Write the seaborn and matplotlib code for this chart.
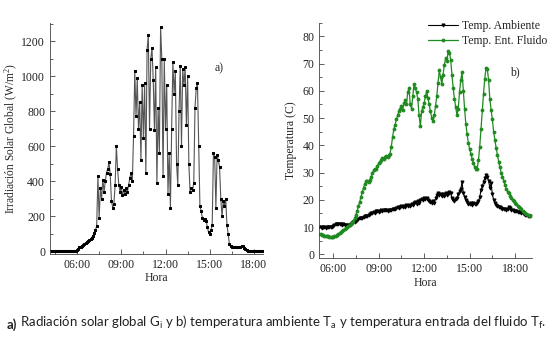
import pandas as pd
import matplotlib.pyplot as plt
import matplotlib.dates as mdates
from matplotlib.ticker import MultipleLocator, AutoMinorLocator
import seaborn as sns

# Irradiacion solar global (W/m2), cada 5 min desde 04:10 hasta 18:40
irradiacion = [
    0, 0, 0, 0, 0, 0, 0, 0, 0, 0, 0, 0, 0, 0, 0, 0, 0, 0, 0, 0, 0,
    3,
    8, 15, 22, 27, 32, 37, 42, 47, 53, 58, 63, 70,
    78, 90, 105, 122, 145, 430, 190, 360, 300, 410, 340, 400,
    450, 470, 510, 440, 290, 250, 270, 380, 600, 470, 380, 340,
    370, 320, 350, 330, 360, 340, 380, 420, 450, 400, 660, 1030,
    770, 990, 700, 850, 520, 950, 650, 960, 450, 1150, 1235, 700,
    1100, 1160, 980, 690, 1050, 390, 820, 560, 1280, 1100, 430, 1100,
    700, 950, 330, 560, 250, 700, 1080, 900, 1030, 500, 380, 800,
    1060, 600, 1040, 950, 1050, 720, 1000, 500, 340, 360, 350, 390,
    820, 930, 960, 600, 260, 230, 190, 180, 185, 175, 140, 110,
    100, 120, 150, 560, 540, 250, 550, 520, 480, 300, 200, 290,
    260, 300, 150, 100, 40, 28, 25, 24, 25, 24, 25, 24,
    25, 26, 30, 28, 20, 12, 5, 2, 0, 0, 0, 0,
    0, 0, 0, 0, 0, 0, 0, 0, 0,
]

# Temperaturas (C), cada 5 min desde 05:05 hasta 19:00
temp_ambiente = [
    10.0, 10.0, 9.8, 9.9, 10.0, 9.8, 9.9, 10.0, 10.1, 10.0, 10.2,
    10.4, 10.8, 11.0, 11.2, 11.0, 11.1, 11.0, 10.8, 11.0, 10.7, 10.6, 10.5,
    10.6, 10.8, 11.0, 11.4, 11.8, 12.0, 12.3, 12.6, 12.8, 13.2, 13.4, 13.3,
    13.8, 14.0, 14.2, 14.0, 14.6, 14.8, 15.2, 15.0, 15.5, 15.3, 15.8, 16.0,
    15.7, 16.0, 16.2, 15.8, 16.1, 16.4, 16.2, 16.0, 16.3, 16.1, 16.4, 16.6,
    16.8, 16.5, 17.0, 17.2, 16.9, 17.4, 17.6, 17.2, 17.8, 17.5, 18.0, 17.6,
    18.2, 17.8, 18.6, 18.0, 18.8, 19.2, 18.5, 19.5, 19.0, 19.8, 20.4, 20.0,
    20.6, 20.2, 20.8, 20.0, 19.5, 19.2, 18.8, 19.4, 19.0, 20.5, 21.8, 22.4,
    21.6, 22.2, 21.5, 22.0, 21.4, 22.6, 21.8, 22.2, 23.0, 22.4, 20.5, 19.8,
    19.6, 20.2, 20.8, 22.0, 23.2, 24.0, 26.5, 22.5, 21.0, 20.0, 19.2, 18.6,
    18.4, 19.0, 18.2, 18.8, 18.4, 18.6, 19.0, 19.4, 21.0, 23.5, 25.0, 26.5,
    28.0, 29.0, 28.5, 27.0, 24.5, 26.0, 22.0, 20.0, 19.0, 18.2, 17.8, 17.5,
    17.2, 17.0, 16.8, 16.6, 16.5, 16.4, 16.6, 17.5, 17.0, 16.4, 16.2, 16.0,
    15.9, 15.8, 15.6, 15.5, 15.4, 15.2, 15.0, 14.8, 14.6, 14.4, 14.2, 14.0,
    13.9,
]
temp_fluido = [
    7.5, 7.3, 7.1, 7.0, 6.9, 6.8, 6.7, 6.6, 6.5, 6.5, 6.5,
    6.5, 6.6, 6.8, 7.0, 7.4, 7.8, 8.2, 8.6, 9.0, 9.3, 9.6, 10.0,
    10.3, 10.7, 11.1, 11.6, 12.2, 13.2, 14.5, 16.0, 17.6, 19.3, 21.0, 22.8,
    24.5, 25.8, 26.8, 27.0, 26.6, 27.2, 28.5, 29.8, 30.8, 31.5, 31.2, 32.4,
    33.4, 33.9, 34.5, 35.4, 35.0, 35.8, 36.2, 35.6, 36.4, 37.0, 39.5, 43.0,
    46.0, 47.5, 49.5, 51.0, 52.5, 53.5, 54.5, 53.0, 55.5, 56.5, 55.0, 59.5,
    61.0, 55.0, 53.5, 58.0, 62.5, 61.0, 59.5, 57.0, 51.0, 47.0, 52.5, 54.0,
    55.5, 58.0, 60.0, 57.5, 55.0, 52.5, 50.0, 49.0, 51.0, 54.5, 58.0, 63.0,
    67.5, 65.0, 62.5, 66.0, 69.5, 72.0, 71.0, 74.5, 74.0, 71.5, 66.0, 61.0,
    57.0, 54.0, 51.0, 53.5, 59.5, 64.0, 67.0, 60.0, 53.5, 48.0, 44.0, 41.0,
    38.5, 37.0, 35.0, 33.5, 32.0, 31.5, 31.5, 34.5, 39.5, 46.0, 53.0, 59.0,
    64.5, 68.5, 68.0, 64.0, 57.0, 53.0, 49.5, 45.0, 42.0, 39.0, 36.5, 34.0,
    32.0, 30.0, 28.5, 27.0, 25.5, 24.0, 23.0, 22.5, 21.5, 20.5, 20.0, 19.5,
    19.0, 18.4, 17.8, 17.3, 16.9, 16.5, 16.0, 15.6, 15.2, 14.9, 14.6, 14.3,
    14.0,
]

hora_rad = pd.date_range("2015-03-10 04:10", periods=len(irradiacion), freq="5min")
hora_temp = pd.date_range("2015-03-10 05:05", periods=len(temp_ambiente), freq="5min")

sns.set_style("ticks")
plt.rcParams["font.family"] = ["Liberation Serif", "DejaVu Serif"]
plt.rcParams["axes.edgecolor"] = "#444444"
plt.rcParams["xtick.color"] = "#444444"
plt.rcParams["ytick.color"] = "#444444"
plt.rcParams["xtick.labelcolor"] = "#222222"
plt.rcParams["ytick.labelcolor"] = "#222222"

fig = plt.figure(figsize=(5.58, 3.40), dpi=100)
ax1 = fig.add_axes([0.0896, 0.253, 0.3823, 0.680])
ax2 = fig.add_axes([0.5722, 0.240, 0.3817, 0.693])

# a) irradiacion
sns.lineplot(x=hora_rad, y=irradiacion, ax=ax1, color="#555555", lw=0.8,
             marker="s", markersize=1.8, markerfacecolor="black",
             markeredgecolor="black")
ax1.set_xlim(pd.Timestamp("2015-03-10 04:10"), pd.Timestamp("2015-03-10 18:38"))
ax1.set_ylim(-15, 1305)
ax1.yaxis.set_major_locator(MultipleLocator(200))
ax1.yaxis.set_minor_locator(MultipleLocator(100))
ax1.set_ylabel("Irradiación Solar Global (W/m$\\mathregular{^2}$)", fontsize=8.3, labelpad=1)
ax1.text(0.774, 0.79, "a)", transform=ax1.transAxes, fontsize=8.5)

# b) temperaturas
sns.lineplot(x=hora_temp, y=temp_ambiente, ax=ax2, color="black", lw=0.8,
             marker="v", markersize=2.2, markeredgecolor="black",
             label="Temp. Ambiente")
sns.lineplot(x=hora_temp, y=temp_fluido, ax=ax2, color="#1f8a1f", lw=0.9,
             marker="o", markersize=2.0, markeredgecolor="#1f8a1f",
             label="Temp. Ent. Fluido")
ax2.set_xlim(pd.Timestamp("2015-03-10 05:05"), pd.Timestamp("2015-03-10 19:08"))
ax2.set_ylim(-1.5, 85)
ax2.yaxis.set_major_locator(MultipleLocator(10))
ax2.yaxis.set_minor_locator(MultipleLocator(5))
ax2.set_ylabel("Temperatura (C)", fontsize=8.5, labelpad=4)
ax2.text(0.895, 0.775, "b)", transform=ax2.transAxes, fontsize=8.5)
ax2.legend(loc="upper left", bbox_to_anchor=(0.47, 1.045), frameon=False,
           fontsize=8.5, handlelength=2.6, handletextpad=0.3, labelspacing=0.25,
           borderpad=0.2)

for ax in (ax1, ax2):
    ax.xaxis.set_major_locator(mdates.HourLocator(byhour=[6, 9, 12, 15, 18]))
    ax.xaxis.set_minor_locator(AutoMinorLocator(2))
    ax.xaxis.set_major_formatter(mdates.DateFormatter("%H:%M"))
    ax.set_xlabel("Hora", fontsize=8.5, labelpad=1)
    ax.tick_params(which="both", direction="in", labelsize=8.5, width=0.6)
    ax.tick_params(which="major", length=3.5)
    ax.tick_params(which="minor", length=2)
    sns.despine(ax=ax)
    for s in ("left", "bottom"):
        ax.spines[s].set_linewidth(0.6)

# pie de figura: "a)" en negrita y el resto a continuacion
cap_font = ["Lato", "DejaVu Sans"]
cap = fig.text(0.012, 0.032, "a)", fontsize=9.5, fontweight="bold",
               family=cap_font, color="#222222")
ax2.annotate(" Radiación solar global G$_\\mathregular{i}$ y b) temperatura ambiente "
             "T$_\\mathregular{a}$ y temperatura entrada del fluido T$_\\mathregular{f}$.",
             xy=(1, 0), xycoords=cap, va="bottom", ha="left",
             fontsize=9.5, family=cap_font, color="#222222",
             annotation_clip=False)

fig.savefig("out.png", dpi=100)
